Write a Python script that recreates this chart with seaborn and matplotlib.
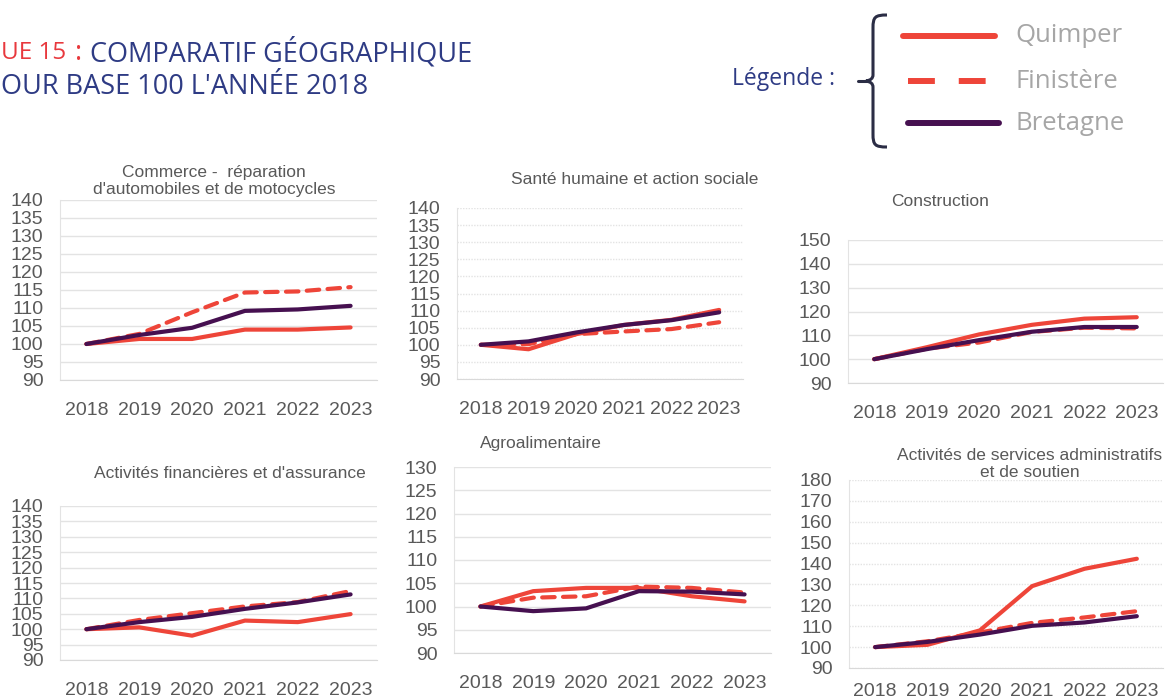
import numpy as np
import pandas as pd
import matplotlib
matplotlib.use("Agg")
import matplotlib.pyplot as plt
import seaborn as sns
from matplotlib.path import Path
from matplotlib.patches import PathPatch
from matplotlib.lines import Line2D

# data (base 100 = 2018)
years = [2018, 2019, 2020, 2021, 2022, 2023]
zones = ["Quimper", "Finistère", "Bretagne"]

commerce_quimper = [100, 101.4, 101.4, 104.0, 104.0, 104.6]
commerce_finistere = [100, 102.8, 108.8, 114.3, 114.6, 115.8]
commerce_bretagne = [100, 102.5, 104.5, 109.2, 109.6, 110.6]

sante_quimper = [100, 98.7, 103.1, 105.8, 107.3, 110.2]
sante_finistere = [100, 100.2, 103.1, 103.9, 104.6, 106.6]
sante_bretagne = [100, 101.0, 103.6, 105.8, 107.2, 109.5]

construction_quimper = [100, 105.0, 110.4, 114.4, 117.0, 117.6]
construction_finistere = [100, 104.4, 107.0, 111.4, 113.2, 112.9]
construction_bretagne = [100, 104.2, 108.0, 111.5, 113.5, 113.5]

finance_quimper = [100, 100.6, 97.9, 102.8, 102.3, 104.9]
finance_finistere = [100, 103.0, 105.2, 107.4, 108.8, 112.4]
finance_bretagne = [100, 102.3, 104.0, 106.6, 108.7, 111.3]

agro_quimper = [100, 103.3, 104.0, 104.0, 102.2, 101.1]
agro_finistere = [100, 101.9, 102.2, 104.3, 104.0, 103.0]
agro_bretagne = [100, 99.0, 99.6, 103.3, 103.2, 102.6]

admin_quimper = [100, 101.1, 108.0, 129.2, 137.5, 142.3]
admin_finistere = [100, 102.8, 107.0, 111.6, 114.2, 117.2]
admin_bretagne = [100, 102.5, 106.0, 110.2, 111.8, 114.8]

titles = [
    "Commerce -  réparation\nd'automobiles et de motocycles",
    "Santé humaine et action sociale",
    "Construction",
    "Activités financières et d'assurance",
    "Agroalimentaire",
    "Activités de services administratifs\net de soutien",
]
panel_values = [
    (commerce_quimper, commerce_finistere, commerce_bretagne),
    (sante_quimper, sante_finistere, sante_bretagne),
    (construction_quimper, construction_finistere, construction_bretagne),
    (finance_quimper, finance_finistere, finance_bretagne),
    (agro_quimper, agro_finistere, agro_bretagne),
    (admin_quimper, admin_finistere, admin_bretagne),
]
y_ranges = [(90, 140, 5), (90, 140, 5), (90, 150, 10), (90, 140, 5), (90, 130, 5), (90, 180, 10)]

# layout in pixels (left, right, top, bottom) and title centre
W, H = 1167, 700
boxes = [(60, 377, 200, 380), (457, 743, 208, 379), (848, 1163, 240, 383),
         (60, 377, 506, 660), (454, 771, 467, 653), (849, 1163, 480, 668)]
title_pos = [(214, 181), (635, 180), (940, 202), (230, 473), (541, 444), (1030, 464)]
dotted_grid = [False, True, False, False, False, True]
x_pads = [16, 16, 16, 16, 16, 11]

RED = "#EE4539"
PURPLE = "#461050"
NAVY = "#2E3B84"
GREY_TXT = "#595959"
palette = {"Quimper": RED, "Finistère": RED, "Bretagne": PURPLE}
dashes = {"Quimper": "", "Finistère": (3, 2), "Bretagne": ""}

sns.set_style("white")
plt.rcParams["font.family"] = ["Liberation Sans", "DejaVu Sans"]

fig = plt.figure(figsize=(W / 100, H / 100), dpi=100)

for i in range(6):
    l, r, t, b = boxes[i]
    ax = fig.add_axes([l / W, 1 - b / H, (r - l) / W, (b - t) / H])
    q, f, br = panel_values[i]
    df = pd.DataFrame({
        "year": years * 3,
        "val": q + f + br,
        "zone": ["Quimper"] * 6 + ["Finistère"] * 6 + ["Bretagne"] * 6,
    })
    sns.lineplot(data=df, x="year", y="val", hue="zone", style="zone",
                 hue_order=["Finistère", "Quimper", "Bretagne"],
                 style_order=["Finistère", "Quimper", "Bretagne"],
                 palette=palette, dashes=dashes, linewidth=3.0,
                 legend=False, ax=ax)
    for ln in ax.get_lines():
        ln.set_solid_capstyle("round")
        ln.set_dash_capstyle("round")

    lo, hi, step = y_ranges[i]
    ax.set_ylim(lo, hi)
    ax.set_yticks(np.arange(lo, hi + 1, step))
    ax.set_xlim(2017.5, 2023.5)
    ax.set_xticks(years)
    ax.set_xticks(np.arange(2017.5, 2024, 1), minor=True)
    ax.set_xlabel("")
    ax.set_ylabel("")
    ax.grid(axis="y", color="#E3E3E3", linewidth=1,
            linestyle=(0, (1, 1)) if dotted_grid[i] else "-")
    ax.set_axisbelow(True)
    for s in ["top", "right"]:
        ax.spines[s].set_visible(False)
    ax.spines["left"].set_color("#E3E3E3")
    ax.spines["bottom"].set_color("#D9D9D9")
    ax.tick_params(axis="y", length=0, pad=12, labelsize=14, labelcolor=GREY_TXT)
    ax.tick_params(axis="x", which="major", length=0, pad=x_pads[i], labelsize=14,
                   labelcolor=GREY_TXT)
    ax.tick_params(axis="x", which="minor", length=5, color="#D9D9D9")

    tx, ty = title_pos[i]
    fig.text(tx / W, 1 - ty / H, titles[i], ha="center", va="center",
             fontsize=12.5, color=GREY_TXT, linespacing=1.2)

# header
hfont = dict(family="Open Sans", va="center", ha="left")
fig.text(1 / W, 1 - 53 / H, "UE 15", color="#E8383D", fontsize=17.5, **hfont)
fig.text(75 / W, 1 - 53 / H, ":", color="#E8383D", fontsize=19.5, **hfont)
fig.text(90 / W, 1 - 53 / H, "COMPARATIF GÉOGRAPHIQUE", color=NAVY, fontsize=19.5, **hfont)
fig.text(1 / W, 1 - 87 / H, "OUR BASE 100 L'ANNÉE 2018", color=NAVY, fontsize=19.5, **hfont)

# hand-made legend with curly bracket
fig.text(732 / W, 1 - 79 / H, "Légende :", color=NAVY, fontsize=16.5,
         family="Open Sans", va="center", ha="left")


def px(x, y):
    return (x / W, 1 - y / H)


brace = [px(887, 15), px(875, 15), px(873, 17), px(873, 28),
         px(873, 75), px(873, 80), px(866, 81),
         px(873, 82), px(873, 87), px(873, 134),
         px(873, 145), px(875, 147), px(887, 147)]
codes = [Path.MOVETO, Path.CURVE4, Path.CURVE4, Path.CURVE4,
         Path.LINETO, Path.CURVE3, Path.CURVE3,
         Path.CURVE3, Path.CURVE3, Path.LINETO,
         Path.CURVE4, Path.CURVE4, Path.CURVE4]
fig.patches.append(PathPatch(Path(brace, codes), transform=fig.transFigure,
                             fill=False, edgecolor="#2B2D45", linewidth=2.2))
fig.lines.append(Line2D([858 / W, 868 / W], [1 - 81 / H, 1 - 81 / H],
                        transform=fig.transFigure, color="#2B2D45", linewidth=2.2))

leg_y = [36, 81, 123]
leg_x = [(903, 995), (908, 999), (908, 999)]
leg_style = ["-", (0, (4.5, 4)), "-"]
for k, z in enumerate(zones):
    x0, x1 = leg_x[k]
    fig.lines.append(Line2D([x0 / W, x1 / W], [1 - leg_y[k] / H] * 2,
                            transform=fig.transFigure, color=palette[z],
                            linewidth=4.3, linestyle=leg_style[k]))
    fig.text(1015 / W, 1 - leg_y[k] / H, z, color="#A6A6A6", fontsize=18.5,
             family="Open Sans", va="center", ha="left")

fig.savefig("out.png", dpi=100)
